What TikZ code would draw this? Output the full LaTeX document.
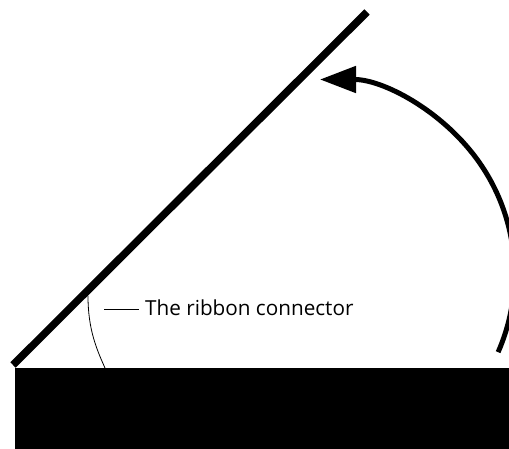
\documentclass[tikz,border=0pt]{standalone}
\usepackage{fontspec}
\setmainfont{Open Sans}
\usetikzlibrary{arrows.meta}
\begin{document}
\begin{tikzpicture}[x=1pt,y=-1pt,
  lidline/.style={line width=7.5pt,line cap=butt},
  thinline/.style={line width=0.8pt},
  arcarrow/.style={line width=5pt,-{Triangle[length=36pt,width=26pt]}},
  labeltext/.style={inner sep=0pt,anchor=west,font=\fontsize{20.7}{24}\selectfont}]
\useasboundingbox (0,0) rectangle (509,449);
\fill[black] (15,368) rectangle (509,449);
\coordinate (lidA) at (13,365);
\coordinate (lidB) at (367,12);
\draw[lidline] (lidA) -- (lidB);
\coordinate (ribA) at (88,296);
\coordinate (ribB) at (105,368);
\draw[thinline] (ribA) .. controls (88,330) and (97,350) .. (ribB);
\node[labeltext] (lbl) at (145,308) {The ribbon connector};
\coordinate (leadA) at (104,309);
\draw[thinline] (leadA) -- ([xshift=-6pt]lbl.west |- leadA);
\coordinate (ctr) at (320,274);
\coordinate (arcS) at ([shift={(23.7:194.5)}]ctr);
\draw[arcarrow] (arcS) arc[start angle=23.7,end angle=-90,radius=194.5];
\end{tikzpicture}
\end{document}
